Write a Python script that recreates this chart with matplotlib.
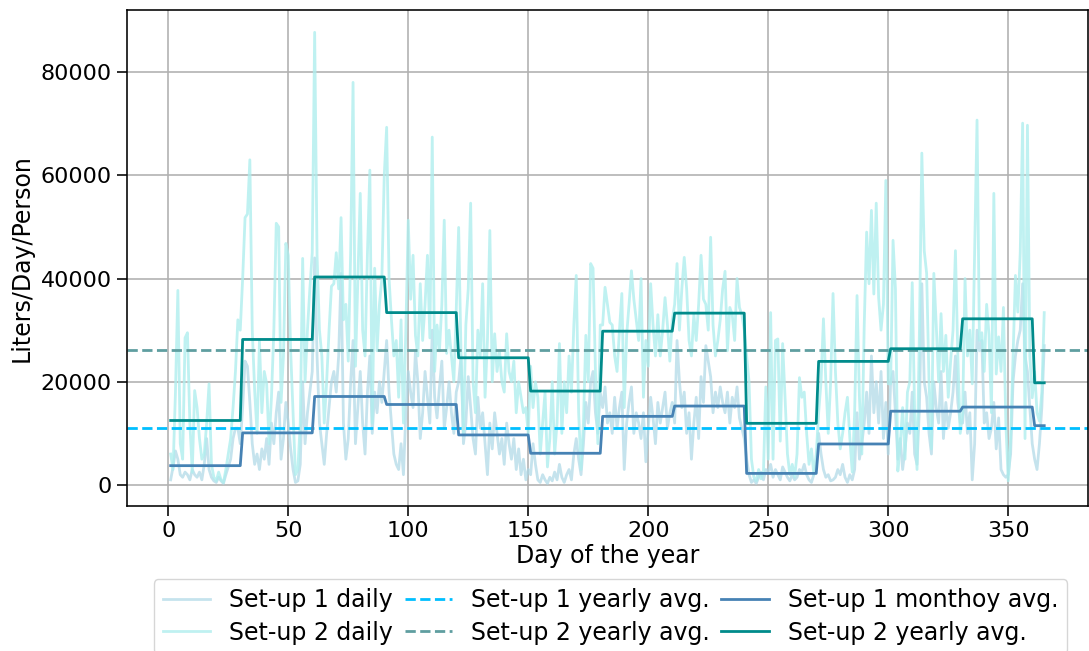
import numpy as np
import matplotlib
matplotlib.use("Agg")
import matplotlib.pyplot as plt

# Daily values (liters/day/person), one row per 30-day block
setup1_daily = [
    1000, 3500, 6600, 5000, 2000, 1500, 2500, 2000, 1000, 3000, 2000, 1500, 2500, 1000, 4000,
    9000, 3000, 1500, 800, 500, 1500, 800, 300, 2000, 3500, 5000, 9000, 11000, 11000, 8000,
    15000, 24000, 23000, 16000, 8000, 4000, 6000, 3000, 7000, 5000, 9000, 4000, 12000, 8000, 14000,
    18000, 5000, 9000, 16000, 12000, 7000, 3000, 500, 800, 4000, 20000, 8000, 14000, 18000, 22000,
    44000, 25000, 12000, 8000, 4000, 10000, 15000, 20000, 22000, 18000, 25000, 41000, 12000, 5000, 9000,
    20000, 28000, 8000, 15000, 22000, 12000, 6000, 18000, 25000, 10000, 18000, 14000, 20000, 16000, 22000,
    28000, 18000, 12000, 6000, 4000, 3000, 8000, 2000, 14000, 22000, 18000, 15000, 26000, 20000, 9000,
    14000, 22000, 17000, 12000, 30000, 17000, 13000, 19000, 24000, 11000, 15000, 20000, 14000, 10000, 18000,
    20000, 25000, 8000, 12000, 21000, 15000, 9000, 6000, 17000, 11000, 14000, 8000, 2000, 12000, 7000,
    14000, 10000, 6000, 9000, 4000, 12000, 8000, 5000, 9000, 3000, 7000, 2000, 5000, 1000, 3000,
    2000, 8000, 4000, 1000, 500, 2000, 1000, 300, 1500, 800, 2500, 1000, 4000, 1500, 500,
    2000, 3000, 1000, 6000, 9000, 5000, 2000, 8000, 16000, 12000, 20000, 22000, 14000, 10000, 18000,
    15000, 19000, 12000, 14000, 10000, 17000, 11000, 15000, 18000, 3000, 12000, 16000, 19000, 10000, 14000,
    12000, 9000, 14000, 4500, 11000, 17000, 13000, 8000, 16000, 12000, 15000, 18000, 11000, 14000, 16000,
    12000, 28000, 20000, 15000, 18000, 10000, 14000, 5000, 12000, 17000, 9000, 21000, 16000, 27000, 24000,
    21000, 14000, 18000, 15000, 19000, 16000, 14000, 18000, 12000, 17000, 15000, 19000, 13000, 11000, 9000,
    5000, 2000, 500, 1000, 300, 1500, 2500, 1000, 3000, 2500, 4000, 1500, 3000, 2000, 1000,
    3500, 2500, 1500, 800, 2000, 1000, 1500, 3000, 2500, 4000, 2000, 1000, 500, 2000, 4000,
    10000, 6000, 3000, 1500, 2000, 800, 1000, 1500, 3000, 2000, 4000, 1500, 500, 2000, 1000,
    3000, 14000, 5000, 8000, 12000, 18000, 10000, 25000, 14000, 20000, 12000, 22000, 9000, 16000, 6000,
    20000, 22000, 14000, 5000, 9000, 3000, 7000, 12000, 10000, 18000, 6000, 4000, 15000, 39000, 20000,
    17000, 10000, 6000, 20000, 15000, 12000, 22000, 9000, 16000, 11000, 14000, 18000, 25000, 16000, 12000,
    12000, 18000, 10000, 14000, 1000, 8000, 30000, 26000, 28000, 12000, 14000, 9000, 11000, 16000, 7000,
    13000, 3000, 2000, 1500, 2000, 6000, 20000, 25000, 28000, 30000, 39000, 25000, 22000, 15000, 8000,
    5000, 3000, 8000, 15000, 27000,
]

setup2_daily = [
    6000, 3000, 18000, 37700, 8000, 5000, 28500, 29500, 12000, 2500, 18300, 15000, 9000, 5000, 6000,
    12000, 19600, 4000, 1500, 800, 2500, 1000, 500, 3000, 6000, 9000, 15000, 22000, 32000, 30000,
    40000, 51800, 52500, 63000, 30000, 18300, 10000, 28000, 14000, 22000, 19600, 8000, 17000, 30000, 50700,
    50000, 16000, 25000, 46800, 44500, 26000, 14000, 2000, 3000, 12000, 43900, 20000, 30000, 38000, 45000,
    87700, 44500, 30000, 25000, 12000, 20000, 30000, 38500, 39000, 45000, 38000, 51800, 32000, 35000, 24000,
    45000, 78000, 23000, 40000, 56500, 30000, 25000, 45000, 61000, 12000, 42000, 26000, 35000, 40000, 60000,
    69300, 40000, 32000, 25000, 28000, 17000, 32000, 12000, 30000, 51300, 36000, 44500, 29000, 25000, 39000,
    28000, 35000, 44500, 28500, 67400, 22000, 31000, 26000, 35000, 51300, 25500, 30000, 25000, 20000, 34000,
    49900, 25000, 10000, 31000, 38000, 54600, 20000, 14000, 30000, 25000, 39000, 17000, 28000, 49300, 20000,
    29300, 22000, 26000, 20000, 18000, 29300, 22000, 20000, 24000, 14000, 20000, 17000, 14000, 15000, 10000,
    23000, 15000, 20000, 17000, 6000, 12000, 18000, 3500, 9000, 20000, 6000, 12000, 27400, 10000, 20000,
    14000, 25000, 18000, 31000, 40600, 14000, 3000, 12000, 29000, 20000, 42900, 42000, 22000, 8000, 31000,
    31000, 38300, 35000, 31500, 31000, 25000, 22000, 30000, 37100, 15000, 29000, 35000, 41500, 36000, 32000,
    28000, 40000, 17000, 28000, 23000, 39000, 31000, 25000, 33000, 25000, 30000, 36300, 31000, 24000, 32000,
    35000, 42900, 30000, 38000, 44100, 38000, 28000, 25000, 33000, 28000, 35000, 44500, 36000, 35000, 30000,
    48000, 31000, 25000, 28000, 32000, 38000, 41400, 26000, 34400, 33000, 28000, 40000, 34400, 33000, 30000,
    25000, 20000, 5000, 1500, 800, 3000, 1200, 2500, 19000, 5000, 33400, 5000, 28000, 28300, 8500,
    27400, 17000, 6000, 2000, 4000, 1500, 6000, 20800, 17000, 18000, 10000, 4000, 7000, 2000, 6000,
    14000, 20000, 32200, 20000, 10000, 20000, 37100, 22000, 12000, 7000, 10000, 14000, 17000, 9000, 2500,
    14000, 36700, 17000, 6000, 31000, 49000, 39000, 53200, 37000, 54600, 36300, 30000, 35000, 59000, 19600,
    19600, 47400, 38000, 2700, 8000, 15000, 5000, 18000, 20000, 39200, 14000, 3000, 30000, 64300, 45400,
    41000, 20000, 7000, 41000, 31000, 20000, 33200, 22000, 29000, 17000, 24000, 30000, 45400, 25000, 10000,
    14000, 40000, 25000, 30000, 19600, 45000, 70700, 28000, 29500, 22000, 35000, 29000, 14000, 56500, 21500,
    28700, 22000, 34400, 12000, 800, 9000, 25000, 40600, 33500, 45000, 70100, 9000, 69700, 25000, 16900,
    22000, 14000, 12400, 18000, 33400,
]

# Block averages (30-day blocks, last block 5 days) and yearly averages
setup1_monthly = [3750, 10100, 17150, 15600, 9700, 6150, 13300, 15300, 2250, 7950, 14300, 15100, 11500]
setup2_monthly = [12500, 28200, 40300, 33400, 24650, 18200, 29800, 33300, 11950, 23950, 26400, 32200, 19800]
block_lengths = [30] * 12 + [5]
setup1_yearly = 11000
setup2_yearly = 26200

days = np.arange(1, len(setup1_daily) + 1)
s1_month_line = np.repeat(setup1_monthly, block_lengths)
s2_month_line = np.repeat(setup2_monthly, block_lengths)

fig = plt.figure(figsize=(10.89, 6.51), dpi=100)
ax = fig.add_axes([0.1166, 0.2227, 0.8824, 0.7623])

ax.plot(days, setup1_daily, color="lightblue", alpha=0.7, lw=2, label="Set-up 1 daily")
ax.plot(days, setup2_daily, color="paleturquoise", alpha=0.8, lw=2, label="Set-up 2 daily")
ax.axhline(setup1_yearly, color="deepskyblue", ls="--", lw=2, label="Set-up 1 yearly avg.")
ax.axhline(setup2_yearly, color="cadetblue", ls="--", lw=2, label="Set-up 2 yearly avg.")
ax.plot(days, s1_month_line, color="steelblue", lw=2, label="Set-up 1 monthoy avg.")
ax.plot(days, s2_month_line, color="darkcyan", lw=2, label="Set-up 2 yearly avg.")

ax.set_xlabel("Day of the year", fontsize=17, labelpad=2)
ax.set_ylabel("Liters/Day/Person", fontsize=17, labelpad=5)
ax.tick_params(labelsize=16, length=7, width=1.15, pad=4)
for sp in ax.spines.values():
    sp.set_linewidth(1.15)
ax.grid(True, color="#b0b0b0", lw=1.15)

fig.legend(loc="upper center", bbox_to_anchor=(0.5606, 0.1106), ncol=3, fontsize=17,
           handlelength=2, columnspacing=0.5, handletextpad=0.8, borderaxespad=0,
           labelspacing=0.35)

fig.savefig("out.png", dpi=100)
